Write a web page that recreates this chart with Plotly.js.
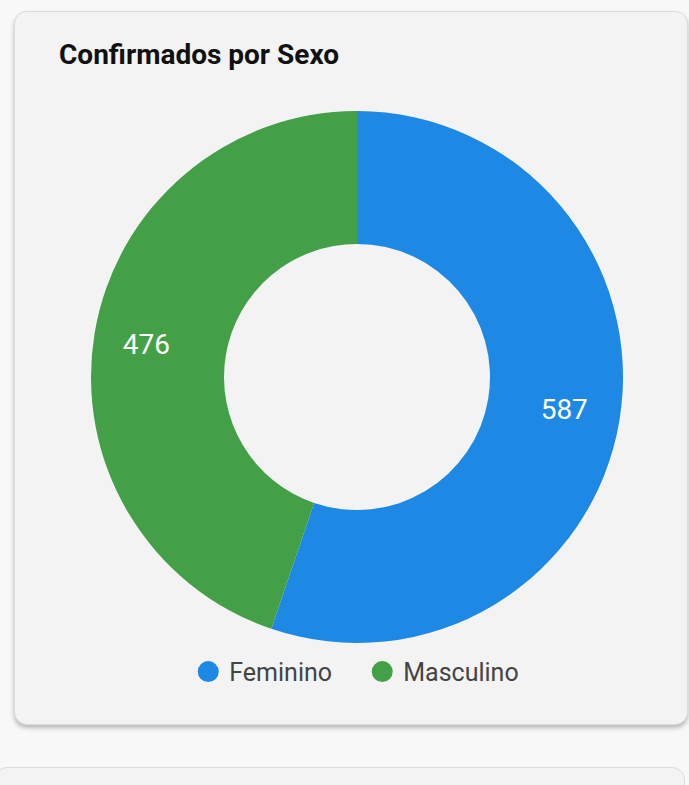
<!DOCTYPE html>
<html>
<head>
<meta charset="utf-8">
<script src="https://cdn.plot.ly/plotly-3.0.1.min.js"></script>
<style>
  html, body { margin: 0; padding: 0; background: #f8f8f8; width: 689px; height: 785px; overflow: hidden; }
  .card { position: absolute; left: 14px; top: 11px; width: 672px; height: 712px;
          background: #f3f3f3; border: 1px solid #dcdcdc; border-radius: 13px;
          box-shadow: 0 3px 4px rgba(0,0,0,0.25); }
  .card2 { position: absolute; left: -6px; top: 767px; width: 689px; height: 60px;
          background: #f3f3f3; border: 1px solid #dcdcdc; border-radius: 13px; }
  #chart { position: absolute; left: 0; top: 0; width: 672px; height: 712px; }
</style>
</head>
<body>
<div class="card"><div id="chart"></div></div>
<div class="card2"></div>
<script>
  const categories = ['Feminino', 'Masculino'];
  const values = [587, 476];
  const colors = ['#1E88E5', '#43A047'];

  const pie = {
    type: 'pie',
    labels: categories,
    values: values,
    hole: 0.5,
    sort: false,
    direction: 'clockwise',
    rotation: 0,
    marker: { colors: colors, line: { width: 0 } },
    texttemplate: ['\u00a0\u00a0\u00a0%{value}', '%{value}\u00a0\u00a0\u00a0\u00a0'],
    textposition: 'inside',
    insidetextorientation: 'horizontal',
    textfont: { family: 'Roboto', size: 28, color: '#ffffff' },
    showlegend: false,
    hoverinfo: 'label+value'
  };

  const legendTraces = categories.map((c, i) => ({
    type: 'scatter',
    mode: 'markers',
    x: [null], y: [null],
    name: c,
    marker: { color: colors[i], size: 16, symbol: 'circle', line: { color: colors[i], width: 5 } },
    showlegend: true,
    hoverinfo: 'skip'
  }));

  const layout = {
    width: 672, height: 712,
    paper_bgcolor: 'rgba(0,0,0,0)',
    plot_bgcolor: 'rgba(0,0,0,0)',
    margin: { l: 76, r: 64, t: 99, b: 81, pad: 0 },
    font: { family: 'Roboto', color: '#444' },
    title: {
      text: '<b>Confirmados por Sexo</b>',
      font: { family: 'Roboto', size: 28, color: '#111' },
      x: 44 / 672, xanchor: 'left', xref: 'container',
      y: 1 - 42 / 712, yanchor: 'middle', yref: 'container'
    },
    xaxis: { visible: false },
    yaxis: { visible: false },
    showlegend: true,
    legend: {
      orientation: 'h',
      x: 0.508, xanchor: 'center',
      y: -0.011, yanchor: 'top',
      itemwidth: 32,
      entrywidth: 127,
      font: { family: 'Roboto', size: 25, color: '#444' },
      bgcolor: 'rgba(0,0,0,0)'
    }
  };

  Plotly.newPlot('chart', [pie, ...legendTraces], layout, { displayModeBar: false, staticPlot: true });
</script>
</body>
</html>
